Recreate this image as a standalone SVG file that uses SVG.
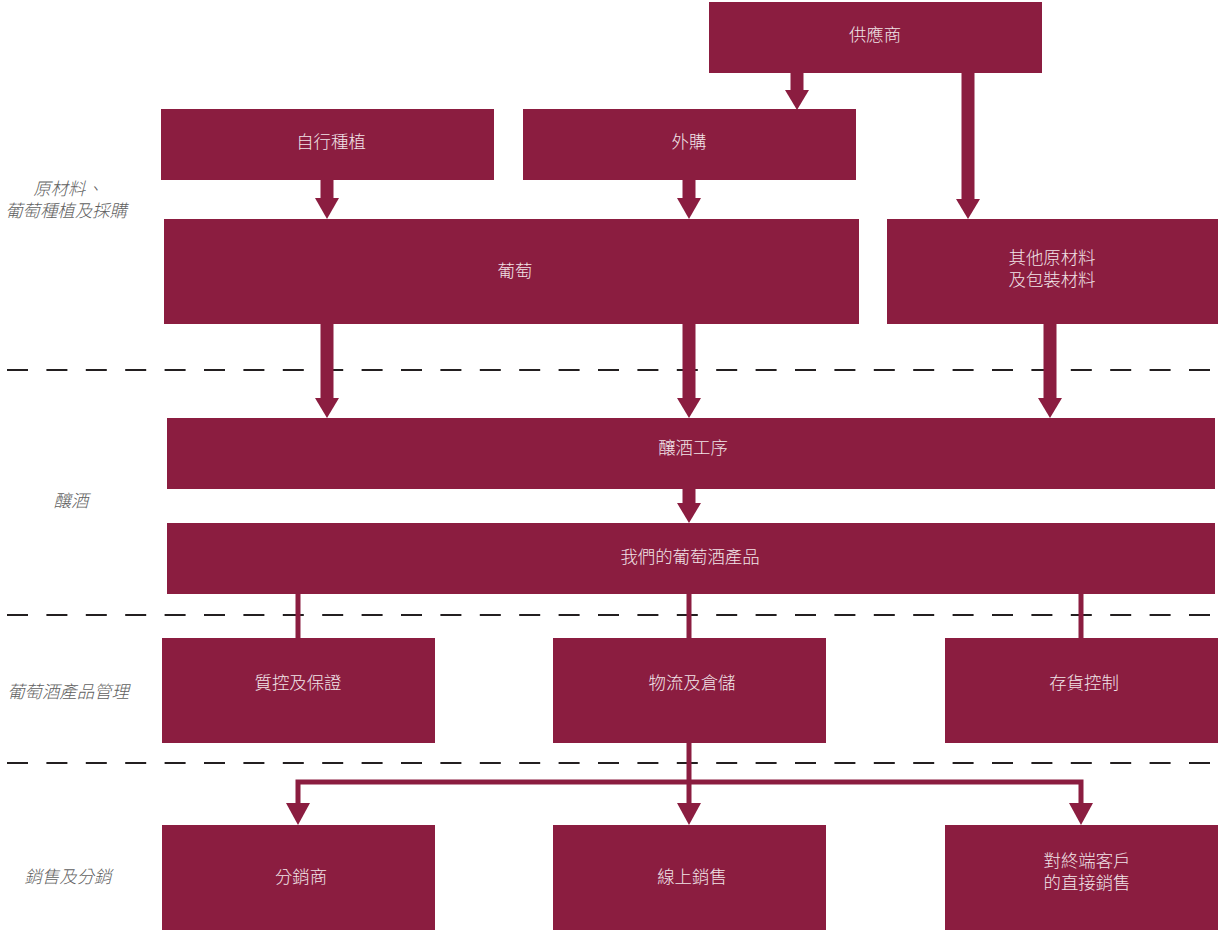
<svg xmlns="http://www.w3.org/2000/svg" width="1218" height="930" viewBox="0 0 1218 930">
<defs>
<style>
.box{fill:#8b1d40}
.t{fill:#f1e4e8;font-family:"Noto Sans CJK TC","Noto Sans CJK SC",sans-serif;font-size:17.4px;font-weight:300;text-anchor:middle}
.lab{fill:#5f5f5f;font-family:"Noto Sans CJK TC","Noto Sans CJK SC",sans-serif;font-size:17.4px;font-weight:300;font-style:italic;text-anchor:middle}
.dash{stroke:#231f20;stroke-width:2;stroke-dasharray:21 18.4;fill:none}
.shaft{stroke:#8b1d40;stroke-width:13;fill:none}
.thin{stroke:#8b1d40;stroke-width:5;fill:none}
.head{fill:#8b1d40}
</style>
</defs>
<rect width="1218" height="930" fill="#fff"/>
<g id="separators">
<line class="dash" x1="7" y1="370" x2="1210" y2="370"/>
<line class="dash" x1="7" y1="615" x2="1210" y2="615"/>
<line class="dash" x1="7" y1="763" x2="1210" y2="763"/>
</g>
<g id="lane-labels">
<text class="lab" x="68" y="195">原材料、</text>
<text class="lab" x="66" y="217">葡萄種植及採購</text>
<text class="lab" x="71" y="507">釀酒</text>
<text class="lab" x="68" y="698">葡萄酒產品管理</text>
<text class="lab" x="68" y="883">銷售及分銷</text>
</g>
<g id="connectors">
<line class="shaft" x1="797" y1="73" x2="797" y2="91"/>
<polygon class="head" points="785,90 809,90 797,110"/>
<line class="shaft" x1="968" y1="73" x2="968" y2="200"/>
<polygon class="head" points="956,199 980,199 968,219"/>
<line class="shaft" x1="327" y1="180" x2="327" y2="199"/>
<polygon class="head" points="315,198 339,198 327,219"/>
<line class="shaft" x1="689" y1="180" x2="689" y2="199"/>
<polygon class="head" points="677,198 701,198 689,219"/>
<line class="shaft" x1="327" y1="324" x2="327" y2="399"/>
<polygon class="head" points="315,398 339,398 327,418"/>
<line class="shaft" x1="689" y1="324" x2="689" y2="399"/>
<polygon class="head" points="677,398 701,398 689,418"/>
<line class="shaft" x1="1050" y1="324" x2="1050" y2="399"/>
<polygon class="head" points="1038,398 1062,398 1050,418"/>
<line class="shaft" x1="689" y1="489" x2="689" y2="504"/>
<polygon class="head" points="677,503 701,503 689,523"/>
<line class="thin" x1="298" y1="594" x2="298" y2="638"/>
<line class="thin" x1="689" y1="594" x2="689" y2="638"/>
<line class="thin" x1="1081" y1="594" x2="1081" y2="638"/>
<line class="thin" x1="689" y1="743" x2="689" y2="805"/>
<polyline class="thin" points="298,805 298,782 1081,782 1081,805"/>
<polygon class="head" points="286,803 310,803 298,825"/>
<polygon class="head" points="677,803 701,803 689,825"/>
<polygon class="head" points="1069,803 1093,803 1081,825"/>
</g>
<g id="n-supplier"><rect class="box" x="709" y="2" width="333" height="71"/><text class="t" x="875" y="41">供應商</text></g>
<g id="n-own"><rect class="box" x="161" y="109" width="333" height="71"/><text class="t" x="331" y="148">自行種植</text></g>
<g id="n-buy"><rect class="box" x="523" y="109" width="333" height="71"/><text class="t" x="689" y="148">外購</text></g>
<g id="n-grape"><rect class="box" x="164" y="219" width="695" height="105"/><text class="t" x="515" y="277">葡萄</text></g>
<g id="n-other"><rect class="box" x="887" y="219" width="331" height="105"/><text class="t" x="1052" y="264">其他原材料</text><text class="t" x="1052" y="286">及包裝材料</text></g>
<g id="n-brew"><rect class="box" x="167" y="418" width="1048" height="71"/><text class="t" x="693" y="454">釀酒工序</text></g>
<g id="n-product"><rect class="box" x="167" y="523" width="1048" height="71"/><text class="t" x="690" y="563">我們的葡萄酒產品</text></g>
<g id="n-qc"><rect class="box" x="162" y="638" width="273" height="105"/><text class="t" x="298" y="689">質控及保證</text></g>
<g id="n-logistics"><rect class="box" x="553" y="638" width="273" height="105"/><text class="t" x="692" y="689">物流及倉儲</text></g>
<g id="n-inventory"><rect class="box" x="945" y="638" width="273" height="105"/><text class="t" x="1084" y="689">存貨控制</text></g>
<g id="n-distributor"><rect class="box" x="162" y="825" width="273" height="105"/><text class="t" x="301" y="883">分銷商</text></g>
<g id="n-online"><rect class="box" x="553" y="825" width="273" height="105"/><text class="t" x="692" y="883">線上銷售</text></g>
<g id="n-direct"><rect class="box" x="945" y="825" width="273" height="105"/><text class="t" x="1087" y="867">對終端客戶</text><text class="t" x="1087" y="889">的直接銷售</text></g>
</svg>
